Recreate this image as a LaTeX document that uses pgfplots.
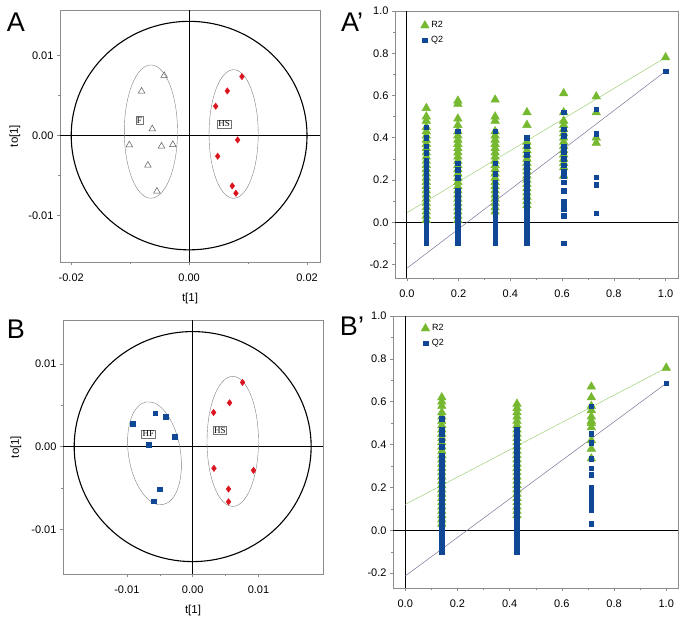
\documentclass[border=0pt]{standalone}
\usepackage{pgfplots}
\pgfplotsset{compat=1.18}
\usepackage{fontspec}
\setmainfont{Liberation Sans}
\newfontfamily\seriffont{Liberation Serif}
\definecolor{gR}{RGB}{118,185,48}
\definecolor{bQ}{RGB}{16,72,150}
\definecolor{rD}{RGB}{220,20,30}
\definecolor{lR}{RGB}{160,208,120}
\definecolor{lQ}{RGB}{125,115,150}
\definecolor{frm}{RGB}{140,140,140}
\tikzset{boxlab/.style={draw=black!55, fill=white, inner sep=1pt, line width=0.4pt, font=\seriffont\fontsize{9}{10}\selectfont}}
\pgfplotsset{
  common/.style={scale only axis, anchor=south west,
    scaled x ticks=false, scaled y ticks=false,
    axis line style={frm, line width=0.6pt},
    tick align=outside, tick pos=left,
    major tick length=3pt, minor tick length=2pt,
    tick style={frm, line width=0.5pt},
    minor x tick num=1, minor y tick num=1,
    ticklabel style={font=\fontsize{11}{13}\selectfont},
    xticklabel style={yshift=-5pt},
    /pgf/number format/assume math mode=true,
    label style={font=\fontsize{11.5}{13}\selectfont}},
  r2/.style={only marks, mark=triangle*, mark size=5pt, mark options={draw=gR, fill=gR}},
  q2/.style={only marks, mark=square*, mark size=2.3pt, mark options={draw=bQ, fill=bQ}},
  leg/.style={legend image code/.code={\draw[mark repeat=2,mark phase=2,##1] plot coordinates {(0pt,0pt) (5pt,0pt) (10pt,0pt)};},
    legend style={draw=none, fill=none, inner sep=0pt, font=\fontsize{9}{10}\selectfont, row sep=3pt, anchor=north west}},
}
\begin{document}
\begin{tikzpicture}
\useasboundingbox (0,0) rectangle (686pt,624pt);
\node[font=\fontsize{27}{28}\selectfont] at (16pt,602pt) {A};
\node[font=\fontsize{27}{28}\selectfont] at (352pt,602pt) {A’};
\node[font=\fontsize{27}{28}\selectfont] at (16pt,295pt) {B};
\node[font=\fontsize{27}{28}\selectfont] at (352pt,298pt) {B’};

% ---------------- A ----------------
\begin{axis}[common, at={(60pt,362pt)}, width=260pt, height=252pt,
  xmin=-0.0219, xmax=0.0222, ymin=-0.0158, ymax=0.0157,
  xtick={-0.02,0,0.02}, xticklabels={-0.02,0.00,0.02},
  ytick={-0.01,0,0.01}, yticklabels={-0.01,0.00,0.01},
  xlabel={t[1]}, ylabel={to[1]},
  x label style={at={(axis description cs:0.5,-0.143)}, anchor=center},
  y label style={at={(axis description cs:-0.173,0.5)}, anchor=center}]
\draw[black, line width=1.1pt] (axis cs:0,-0.0158) -- (axis cs:0,0.0157);
\draw[black, line width=1.1pt] (axis cs:-0.0219,0) -- (axis cs:0.0222,0);
\draw[black, line width=1.1pt] (axis cs:0,0) ellipse [x radius=0.02, y radius=0.01428];
\draw[black!50, line width=0.4pt] (axis cs:-0.00648,0.0005) ellipse [x radius=0.00451, y radius=0.00833];
\draw[black!50, line width=0.4pt] (axis cs:0.00755,0.0002) ellipse [x radius=0.00417, y radius=0.00804];
\addplot[only marks, mark=triangle, mark size=3.8pt, mark options={draw=black!65, fill=white, line width=0.5pt}] coordinates {
 (-0.00423,0.0075) (-0.00806,0.00554) (-0.00625,0.00083) (-0.01014,-0.00117)
 (-0.00468,-0.00133) (-0.00276,-0.00113) (-0.00699,-0.00371) (-0.00546,-0.00696)};
\addplot[only marks, mark=diamond*, mark size=3.2pt, mark options={draw=rD, fill=rD}] coordinates {
 (0.00896,0.00738) (0.00648,0.00558) (0.00451,0.00367) (0.00823,-0.00054)
 (0.00485,-0.00258) (0.00732,-0.00629) (0.00794,-0.00721)};
\node[boxlab] at (axis cs:-0.00845,0.00188) {F};
\node[boxlab] at (axis cs:0.00592,0.00146) {HS};
\end{axis}

% ---------------- A' ----------------
\begin{axis}[common, leg, at={(395pt,346pt)}, width=283pt, height=267pt,
  xmin=-0.046, xmax=1.048, ymin=-0.264, ymax=1.0,
  xtick={0,0.2,0.4,0.6,0.8,1.0}, xticklabels={0.0,0.2,0.4,0.6,0.8,1.0},
  ytick={-0.2,0,0.2,0.4,0.6,0.8,1.0}, yticklabels={-0.2,0.0,0.2,0.4,0.6,0.8,1.0},
  legend style={at={(axis cs:0.052,0.96)}}]
\draw[black, line width=1.1pt] (axis cs:0,-0.264) -- (axis cs:0,1.0);
\draw[black, line width=1.1pt] (axis cs:-0.046,0) -- (axis cs:1.048,0);
\addplot[r2] coordinates {
 (0.075,0.54)(0.075,0.50)(0.075,0.48)(0.075,0.45)(0.075,0.43)(0.075,0.41)(0.075,0.39)(0.075,0.37)(0.075,0.35)(0.075,0.33)(0.075,0.31)(0.075,0.29)(0.075,0.27)(0.075,0.25)(0.075,0.23)(0.075,0.21)(0.075,0.19)(0.075,0.17)(0.075,0.15)(0.075,0.13)(0.075,0.11)(0.075,0.09)(0.075,0.07)(0.075,0.05)(0.075,0.03)(0.075,0.01)
 (0.197,0.575)(0.197,0.56)(0.197,0.49)(0.197,0.46)(0.197,0.43)(0.197,0.41)(0.197,0.39)(0.197,0.37)(0.197,0.35)(0.197,0.33)(0.197,0.31)(0.197,0.29)(0.197,0.27)(0.197,0.25)(0.197,0.23)(0.197,0.21)(0.197,0.19)(0.197,0.17)(0.197,0.15)(0.197,0.13)(0.197,0.11)(0.197,0.09)(0.197,0.07)(0.197,0.05)(0.197,0.03)(0.197,0.01)
 (0.341,0.58)(0.341,0.50)(0.341,0.48)(0.341,0.43)(0.341,0.41)(0.341,0.39)(0.341,0.37)(0.341,0.35)(0.341,0.33)(0.341,0.31)(0.341,0.29)(0.341,0.27)(0.341,0.25)(0.341,0.23)(0.341,0.21)(0.341,0.19)(0.341,0.17)(0.341,0.15)(0.341,0.13)(0.341,0.11)(0.341,0.09)(0.341,0.07)(0.341,0.05)
 (0.464,0.52)(0.464,0.46)(0.464,0.38)(0.464,0.36)(0.464,0.34)(0.464,0.32)(0.464,0.30)(0.464,0.28)(0.464,0.26)(0.464,0.24)(0.464,0.22)(0.464,0.20)(0.464,0.18)(0.464,0.16)(0.464,0.14)(0.464,0.12)(0.464,0.10)(0.464,0.08)
 (0.606,0.61)(0.606,0.52)(0.606,0.48)(0.606,0.46)(0.606,0.44)(0.606,0.42)(0.606,0.40)(0.606,0.38)(0.606,0.36)(0.606,0.34)(0.606,0.32)(0.606,0.30)(0.606,0.28)(0.606,0.26)(0.606,0.22)
 (0.732,0.595)(0.732,0.52)(0.732,0.40)(0.732,0.375)
 (1.0,0.78)};
\addlegendentry{R2}
\addplot[q2] coordinates {
 (0.075,0.45)(0.075,0.40)(0.075,0.36)(0.075,0.33)(0.075,0.29)(0.075,0.27)(0.075,0.25)(0.075,0.23)(0.075,0.21)(0.075,0.19)(0.075,0.17)(0.075,0.15)(0.075,0.13)(0.075,0.11)(0.075,0.09)(0.075,0.07)(0.075,0.05)(0.075,0.03)(0.075,0.01)(0.075,-0.01)(0.075,-0.03)(0.075,-0.05)(0.075,-0.07)(0.075,-0.09)(0.075,-0.10)
 (0.197,0.43)(0.197,0.28)(0.197,0.25)(0.197,0.21)(0.197,0.15)(0.197,0.13)(0.197,0.11)(0.197,0.09)(0.197,0.07)(0.197,0.05)(0.197,0.03)(0.197,0.01)(0.197,-0.01)(0.197,-0.03)(0.197,-0.05)(0.197,-0.07)(0.197,-0.09)(0.197,-0.10)
 (0.341,0.43)(0.341,0.28)(0.341,0.23)(0.341,0.19)(0.341,0.17)(0.341,0.15)(0.341,0.13)(0.341,0.11)(0.341,0.09)(0.341,0.07)(0.341,0.05)(0.341,0.03)(0.341,0.01)(0.341,-0.01)(0.341,-0.03)(0.341,-0.05)(0.341,-0.07)(0.341,-0.09)(0.341,-0.10)
 (0.464,0.40)(0.464,0.36)(0.464,0.32)(0.464,0.28)(0.464,0.26)(0.464,0.24)(0.464,0.22)(0.464,0.20)(0.464,0.18)(0.464,0.16)(0.464,0.14)(0.464,0.12)(0.464,0.10)(0.464,0.08)(0.464,0.06)(0.464,0.04)(0.464,0.02)(0.464,0.00)(0.464,-0.02)(0.464,-0.04)(0.464,-0.06)(0.464,-0.08)(0.464,-0.10)
 (0.606,0.52)(0.606,0.44)(0.606,0.41)(0.606,0.36)(0.606,0.335)(0.606,0.30)(0.606,0.27)(0.606,0.24)(0.606,0.22)(0.606,0.19)(0.606,0.15)(0.606,0.10)(0.606,0.085)(0.606,0.065)(0.606,0.03)(0.606,-0.10)
 (0.732,0.535)(0.732,0.42)(0.732,0.213)(0.732,0.177)(0.732,0.043)
 (1.0,0.715)};
\addlegendentry{Q2}
\addplot[lR, line width=0.5pt, forget plot] coordinates {(0,0.045) (1.0,0.78)};
\addplot[lQ, line width=0.5pt, forget plot] coordinates {(0,-0.218) (1.0,0.715)};
\end{axis}

% ---------------- B ----------------
\begin{axis}[common, at={(63pt,50pt)}, width=260pt, height=254pt,
  xmin=-0.0197, xmax=0.0198, ymin=-0.0154, ymax=0.0153,
  xtick={-0.01,0,0.01}, xticklabels={-0.01,0.00,0.01},
  ytick={-0.01,0,0.01}, yticklabels={-0.01,0.00,0.01},
  xlabel={t[1]}, ylabel={to[1]},
  x label style={at={(axis description cs:0.5,-0.142)}, anchor=center},
  y label style={at={(axis description cs:-0.181,0.5)}, anchor=center}]
\draw[black, line width=1.1pt] (axis cs:0,-0.0154) -- (axis cs:0,0.0153);
\draw[black, line width=1.1pt] (axis cs:-0.0197,0) -- (axis cs:0.0198,0);
\draw[black, line width=1.1pt] (axis cs:0,0) ellipse [x radius=0.018, y radius=0.0139];
\draw[black!50, line width=0.4pt, rotate around={9:(axis cs:-0.0058,-0.00081)}] (axis cs:-0.0058,-0.00081) ellipse [x radius=26pt, y radius=52pt];
\draw[black!50, line width=0.4pt] (axis cs:0.00609,0.00063) ellipse [x radius=0.00391, y radius=0.00786];
\addplot[only marks, mark=square*, mark size=2.3pt, mark options={draw=bQ, fill=bQ}] coordinates {
 (-0.00914,0.00275) (-0.00571,0.00404) (-0.00409,0.00364) (-0.00273,0.00121)
 (-0.00672,0.0002) (-0.005,-0.00517) (-0.00591,-0.00659)};
\addplot[only marks, mark=diamond*, mark size=3.2pt, mark options={draw=rD, fill=rD}] coordinates {
 (0.00758,0.00776) (0.00561,0.00529) (0.00318,0.00412) (0.00323,-0.00263)
 (0.00924,-0.00287) (0.00545,-0.00513) (0.00545,-0.00667)};
\node[boxlab] at (axis cs:-0.00672,0.00154) {HF};
\node[boxlab] at (axis cs:0.00414,0.00194) {HS};
\end{axis}

% ---------------- B' ----------------
\begin{axis}[common, leg, at={(393pt,36pt)}, width=285pt, height=272pt,
  xmin=-0.047, xmax=1.045, ymin=-0.269, ymax=1.0,
  xtick={0,0.2,0.4,0.6,0.8,1.0}, xticklabels={0.0,0.2,0.4,0.6,0.8,1.0},
  ytick={-0.2,0,0.2,0.4,0.6,0.8,1.0}, yticklabels={-0.2,0.0,0.2,0.4,0.6,0.8,1.0},
  legend style={at={(axis cs:0.06,0.97)}}]
\draw[black, line width=1.1pt] (axis cs:0,-0.269) -- (axis cs:0,1.0);
\draw[black, line width=1.1pt] (axis cs:-0.047,0) -- (axis cs:1.045,0);
\addplot[r2] coordinates {
 (0.14,0.62)(0.14,0.60)(0.14,0.58)(0.14,0.55)(0.14,0.53)(0.14,0.51)(0.14,0.49)(0.14,0.47)(0.14,0.45)(0.14,0.43)(0.14,0.41)(0.14,0.39)(0.14,0.37)(0.14,0.35)(0.14,0.33)(0.14,0.31)(0.14,0.29)(0.14,0.27)(0.14,0.25)(0.14,0.23)(0.14,0.21)(0.14,0.19)(0.14,0.17)(0.14,0.15)(0.14,0.13)(0.14,0.11)(0.14,0.09)(0.14,0.07)(0.14,0.05)(0.14,0.03)
 (0.428,0.59)(0.428,0.57)(0.428,0.55)(0.428,0.53)(0.428,0.51)(0.428,0.49)(0.428,0.47)(0.428,0.45)(0.428,0.43)(0.428,0.41)(0.428,0.39)(0.428,0.37)(0.428,0.35)(0.428,0.33)(0.428,0.31)(0.428,0.29)(0.428,0.27)(0.428,0.25)(0.428,0.23)(0.428,0.21)(0.428,0.19)(0.428,0.17)(0.428,0.15)(0.428,0.13)(0.428,0.11)(0.428,0.09)(0.428,0.07)
 (0.713,0.67)(0.713,0.62)(0.713,0.58)(0.713,0.56)(0.713,0.53)(0.713,0.51)(0.713,0.50)(0.713,0.48)(0.713,0.42)(0.713,0.38)(0.713,0.335)
 (1.0,0.758)};
\addlegendentry{R2}
\addplot[q2] coordinates {
 (0.14,0.52)(0.14,0.47)(0.14,0.45)(0.14,0.42)(0.14,0.39)(0.14,0.35)(0.14,0.33)(0.14,0.31)(0.14,0.29)(0.14,0.27)(0.14,0.25)(0.14,0.23)(0.14,0.21)(0.14,0.19)(0.14,0.17)(0.14,0.15)(0.14,0.13)(0.14,0.11)(0.14,0.09)(0.14,0.07)(0.14,0.05)(0.14,0.03)(0.14,0.01)(0.14,-0.01)(0.14,-0.03)(0.14,-0.05)(0.14,-0.07)(0.14,-0.09)(0.14,-0.10)
 (0.428,0.47)(0.428,0.45)(0.428,0.43)(0.428,0.41)(0.428,0.39)(0.428,0.37)(0.428,0.35)(0.428,0.33)(0.428,0.31)(0.428,0.29)(0.428,0.27)(0.428,0.25)(0.428,0.23)(0.428,0.21)(0.428,0.19)(0.428,0.17)(0.428,0.15)(0.428,0.13)(0.428,0.11)(0.428,0.09)(0.428,0.07)(0.428,0.05)(0.428,0.03)(0.428,0.01)(0.428,-0.01)(0.428,-0.03)(0.428,-0.05)(0.428,-0.07)(0.428,-0.09)(0.428,-0.10)
 (0.713,0.58)(0.713,0.45)(0.713,0.41)(0.713,0.335)(0.713,0.29)(0.713,0.26)(0.713,0.20)(0.713,0.18)(0.713,0.165)(0.713,0.14)(0.713,0.12)(0.713,0.095)(0.713,0.03)
 (1.0,0.686)};
\addlegendentry{Q2}
\addplot[lR, line width=0.5pt, forget plot] coordinates {(0,0.121) (1.0,0.758)};
\addplot[lQ, line width=0.5pt, forget plot] coordinates {(0,-0.213) (1.0,0.686)};
\end{axis}
\end{tikzpicture}
\end{document}
